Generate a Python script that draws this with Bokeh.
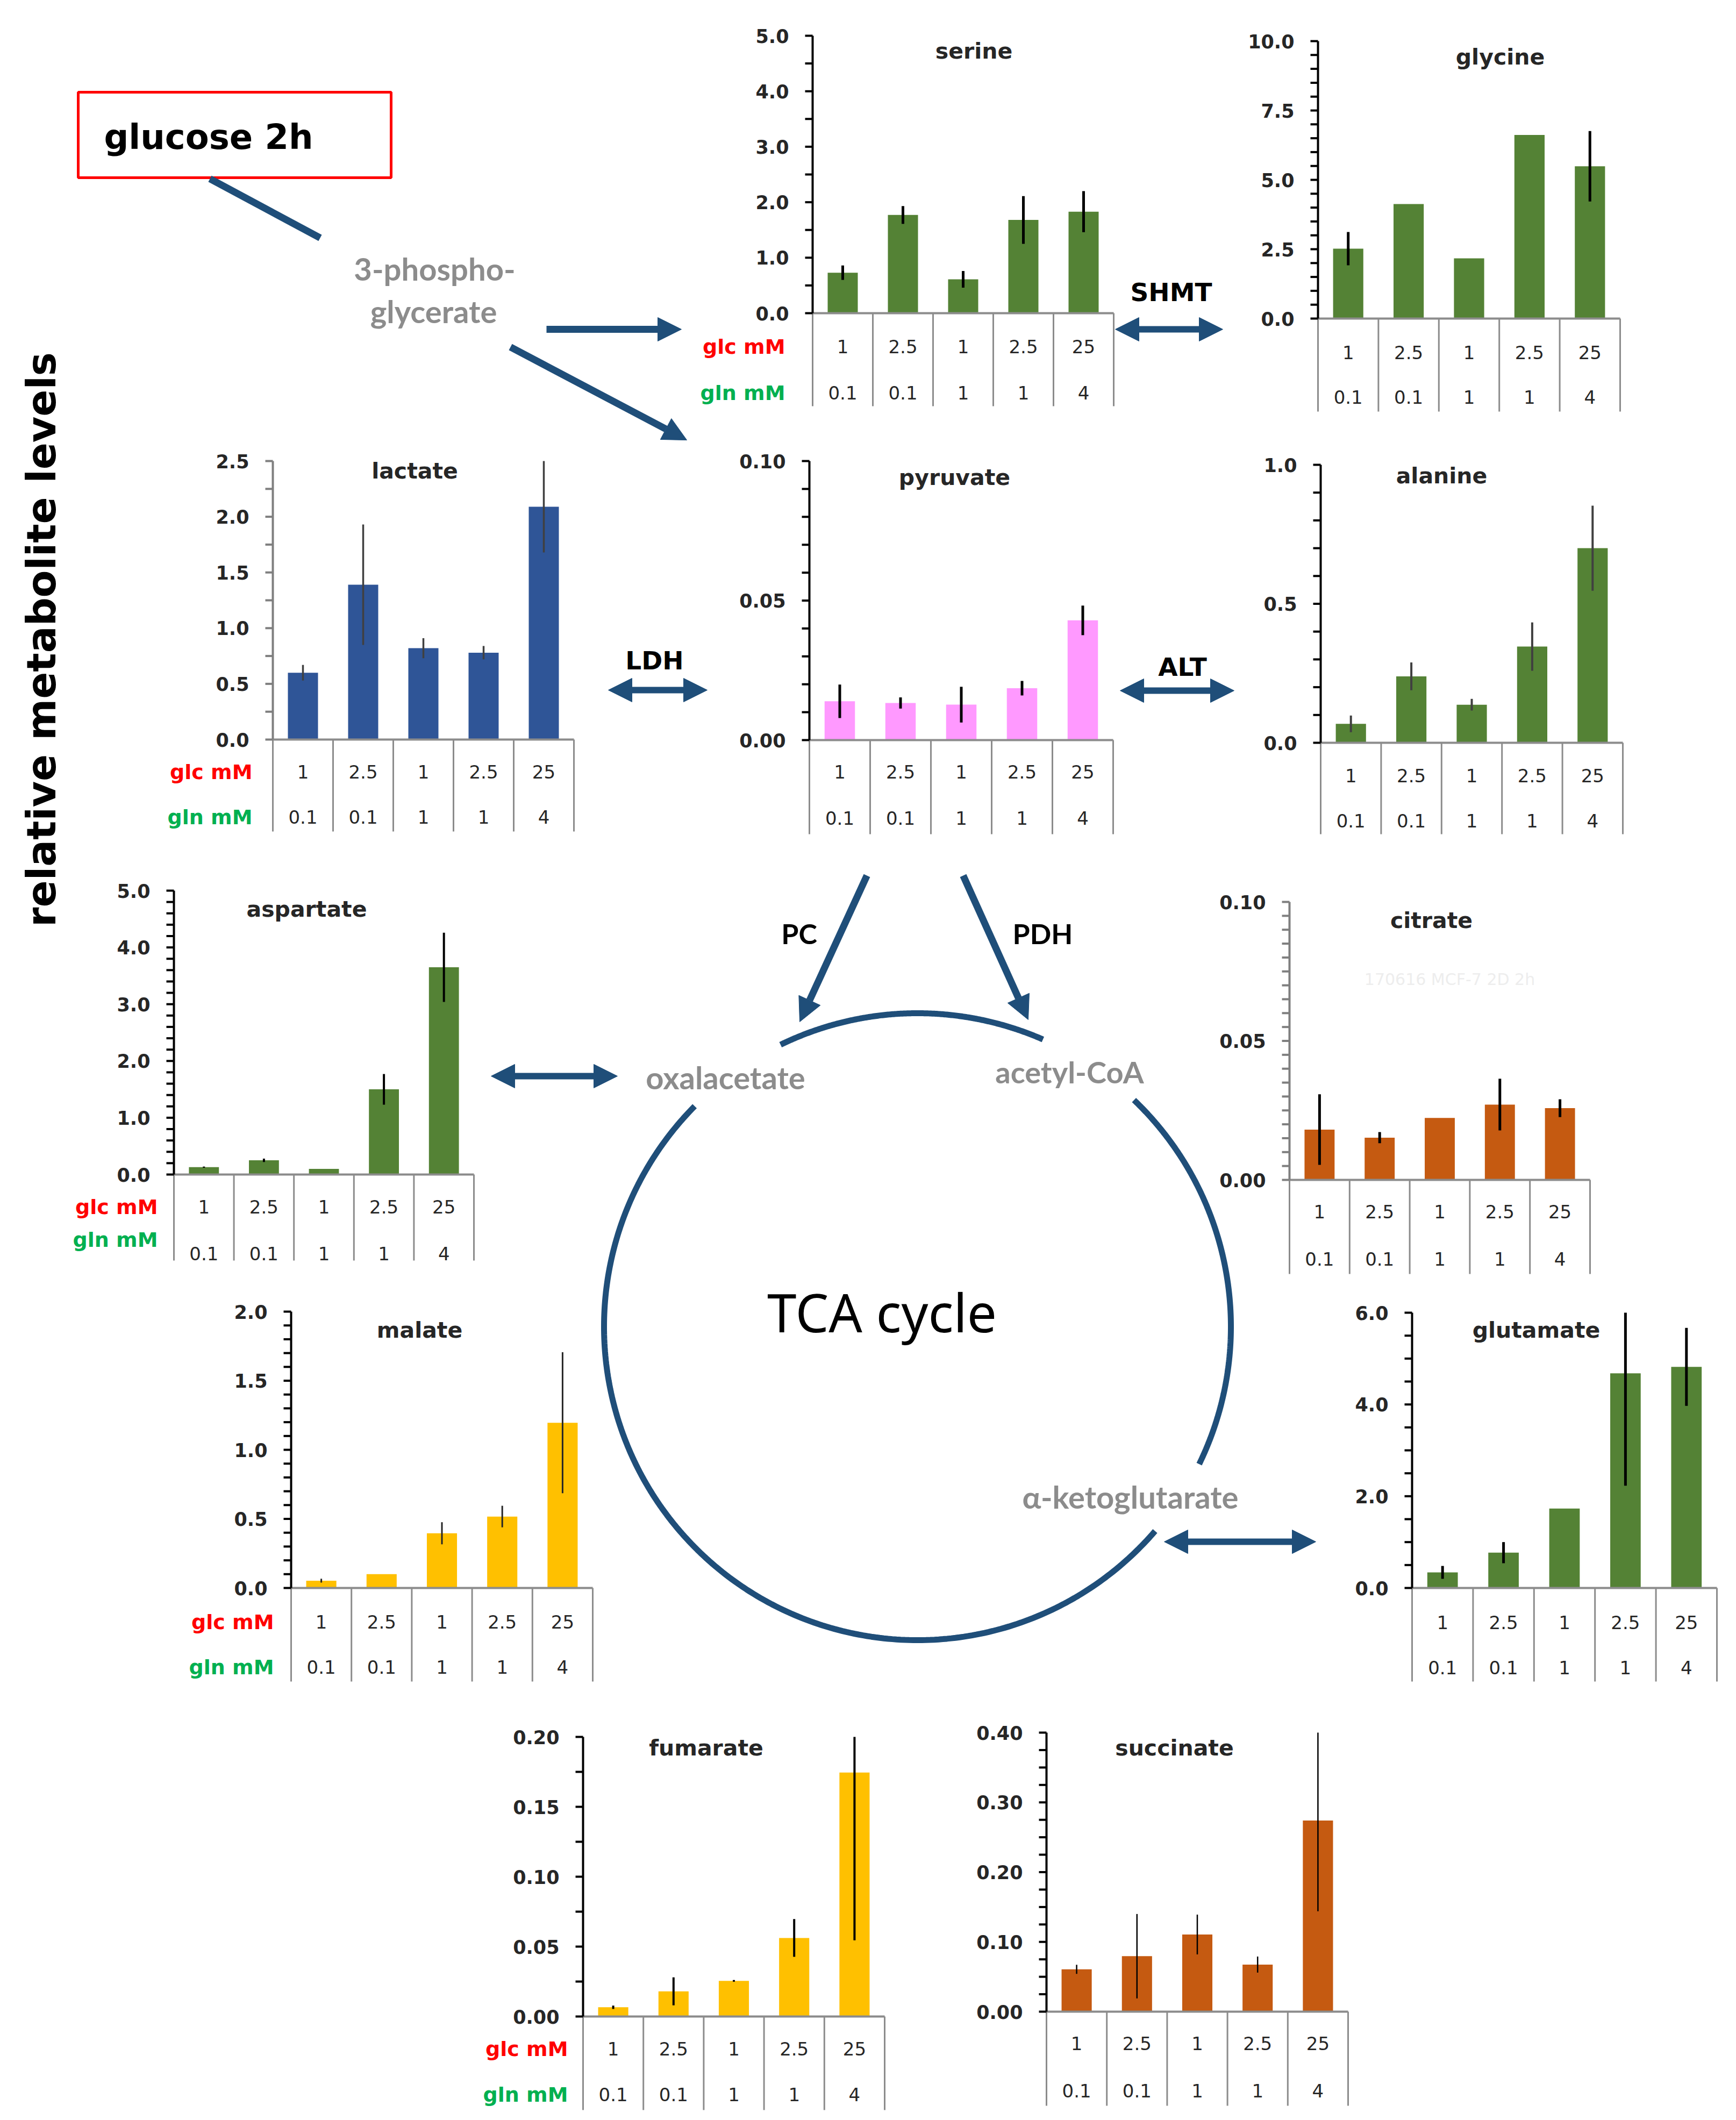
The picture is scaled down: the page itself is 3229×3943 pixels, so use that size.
import numpy as np
from bokeh.plotting import figure
from bokeh.models import Range1d, Arrow, NormalHead
from bokeh.core.properties import value
from bokeh.embed import file_html
from bokeh.resources import INLINE

# ---------------- data ----------------
glc_mM = ["1", "2.5", "1", "2.5", "25"]
gln_mM = ["0.1", "0.1", "1", "1", "4"]

serine_values = [0.73, 1.77, 0.61, 1.68, 1.83]
serine_errors = [0.13, 0.16, 0.15, 0.43, 0.37]
serine_ticks = ["0.0", "1.0", "2.0", "3.0", "4.0", "5.0"]

glycine_values = [2.52, 4.13, 2.17, 6.62, 5.49]
glycine_errors = [0.60, 0.0, 0.0, 0.0, 1.27]
glycine_ticks = ["0.0", "2.5", "5.0", "7.5", "10.0"]

lactate_values = [0.60, 1.39, 0.82, 0.78, 2.09]
lactate_errors = [0.07, 0.54, 0.09, 0.06, 0.41]
lactate_ticks = ["0.0", "0.5", "1.0", "1.5", "2.0", "2.5"]

pyruvate_values = [0.0139, 0.0133, 0.0127, 0.0186, 0.0429]
pyruvate_errors = [0.0060, 0.0020, 0.0064, 0.0026, 0.0053]
pyruvate_ticks = ["0.00", "0.05", "0.10"]

alanine_values = [0.068, 0.239, 0.137, 0.346, 0.700]
alanine_errors = [0.030, 0.050, 0.021, 0.087, 0.153]
alanine_ticks = ["0.0", "0.5", "1.0"]

aspartate_values = [0.13, 0.25, 0.10, 1.50, 3.65]
aspartate_errors = [0.01, 0.03, 0.0, 0.27, 0.61]
aspartate_ticks = ["0.0", "1.0", "2.0", "3.0", "4.0", "5.0"]

citrate_values = [0.0181, 0.0152, 0.0223, 0.0271, 0.0258]
citrate_errors = [0.0127, 0.0020, 0.0, 0.0093, 0.0032]
citrate_ticks = ["0.00", "0.05", "0.10"]

malate_values = [0.053, 0.100, 0.396, 0.517, 1.196]
malate_errors = [0.014, 0.0, 0.080, 0.078, 0.510]
malate_ticks = ["0.0", "0.5", "1.0", "1.5", "2.0"]

glutamate_values = [0.34, 0.77, 1.73, 4.68, 4.82]
glutamate_errors = [0.14, 0.23, 0.0, 2.45, 0.85]
glutamate_ticks = ["0.0", "2.0", "4.0", "6.0"]

fumarate_values = [0.0066, 0.0180, 0.0255, 0.0562, 0.1745]
fumarate_errors = [0.0012, 0.0100, 0.0006, 0.0135, 0.1200]
fumarate_ticks = ["0.00", "0.05", "0.10", "0.15", "0.20"]

succinate_values = [0.0607, 0.0795, 0.1106, 0.0675, 0.2740]
succinate_errors = [0.0065, 0.0605, 0.0285, 0.0115, 0.1300]
succinate_ticks = ["0.00", "0.10", "0.20", "0.30", "0.40"]

CHARTS = [
    ("serine", serine_values, serine_errors, serine_ticks),
    ("glycine", glycine_values, glycine_errors, glycine_ticks),
    ("lactate", lactate_values, lactate_errors, lactate_ticks),
    ("pyruvate", pyruvate_values, pyruvate_errors, pyruvate_ticks),
    ("alanine", alanine_values, alanine_errors, alanine_ticks),
    ("aspartate", aspartate_values, aspartate_errors, aspartate_ticks),
    ("citrate", citrate_values, citrate_errors, citrate_ticks),
    ("malate", malate_values, malate_errors, malate_ticks),
    ("glutamate", glutamate_values, glutamate_errors, glutamate_ticks),
    ("fumarate", fumarate_values, fumarate_errors, fumarate_ticks),
    ("succinate", succinate_values, succinate_errors, succinate_ticks),
]

# ---------------- layout (page pixels) ----------------
LAYOUT = {
    "serine":    dict(x0=1511, cw=112.0, y0=582,  ytop=66,   tbot=755,  glc_y=644,  gln_y=730,  tx=1811, ty=94,   lab_x=1460, gln_lab_y=730),
    "glycine":   dict(x0=2451, cw=112.4, y0=592,  ytop=76,   tbot=765,  glc_y=655,  gln_y=738,  tx=2790, ty=105,  lab_x=None),
    "lactate":   dict(x0=507,  cw=112.0, y0=1375, ytop=857,  tbot=1546, glc_y=1435, gln_y=1519, tx=771,  ty=875,  lab_x=469, gln_lab_y=1519),
    "pyruvate":  dict(x0=1505, cw=113.0, y0=1376, ytop=857,  tbot=1551, glc_y=1435, gln_y=1521, tx=1775, ty=887,  lab_x=None),
    "alanine":   dict(x0=2456, cw=112.4, y0=1381, ytop=864,  tbot=1551, glc_y=1442, gln_y=1526, tx=2681, ty=884,  lab_x=None),
    "aspartate": dict(x0=323,  cw=111.6, y0=2184, ytop=1656, tbot=2344, glc_y=2244, gln_y=2331, tx=570,  ty=1690, lab_x=293, gln_lab_y=2305),
    "citrate":   dict(x0=2398, cw=111.8, y0=2194, ytop=1677, tbot=2369, glc_y=2253, gln_y=2341, tx=2662, ty=1711, lab_x=None),
    "malate":    dict(x0=541,  cw=112.2, y0=2953, ytop=2439, tbot=3127, glc_y=3016, gln_y=3100, tx=780,  ty=2473, lab_x=509, gln_lab_y=3100),
    "glutamate": dict(x0=2626, cw=113.4, y0=2953, ytop=2441, tbot=3127, glc_y=3017, gln_y=3101, tx=2857, ty=2473, lab_x=None),
    "fumarate":  dict(x0=1084, cw=112.2, y0=3750, ytop=3230, tbot=3924, glc_y=3810, gln_y=3895, tx=1313, ty=3250, lab_x=1056, gln_lab_y=3895),
    "succinate": dict(x0=1946, cw=112.2, y0=3741, ytop=3222, tbot=3916, glc_y=3800, gln_y=3888, tx=2184, ty=3250, lab_x=None),
}

GREEN, NAVY, PINK, ORANGE, YELLOW = "#548235", "#2F5597", "#FF99FF", "#C55A11", "#FFC000"
STYLE = {
    "serine":    dict(color=GREEN,  axis="#000000", err="#000000", err_w=5, minor=0.5),
    "glycine":   dict(color=GREEN,  axis="#000000", err="#000000", err_w=5, minor=0.5),
    "lactate":   dict(color=NAVY,   axis="#7F7F7F", err="#404040", err_w=3.5, minor=0.25),
    "pyruvate":  dict(color=PINK,   axis="#000000", err="#000000", err_w=5, minor=0.01),
    "alanine":   dict(color=GREEN,  axis="#000000", err="#404040", err_w=4, minor=0.1),
    "aspartate": dict(color=GREEN,  axis="#000000", err="#000000", err_w=4, minor=0.2),
    "citrate":   dict(color=ORANGE, axis="#7F7F7F", err="#000000", err_w=5, minor=0.005),
    "malate":    dict(color=YELLOW, axis="#000000", err="#262626", err_w=3, minor=0.1),
    "glutamate": dict(color=GREEN,  axis="#000000", err="#000000", err_w=5, minor=0.5),
    "fumarate":  dict(color=YELLOW, axis="#000000", err="#000000", err_w=4, minor=0.025),
    "succinate": dict(color=ORANGE, axis="#000000", err="#000000", err_w=2.5, minor=0.025),
}

TXT = "#262626"
TABLE = "#8C8C8C"
ARROW = "#1F4E79"
DIAG_GRAY = "#8C8C8C"
CHART_FONT = value("DejaVu Sans")
DIAG_FONT = value("Lato")
TICK_LEN = 14

W, H = 3213, 3927
X_LO, X_HI = 0, W
Y_LO, Y_HI = 0, H

p = figure(width=W, height=H, x_range=Range1d(X_LO, X_HI), y_range=Range1d(Y_HI, Y_LO),
           output_backend="svg", toolbar_location=None, tools="",
           x_axis_location=None, y_axis_location=None, min_border=0, title_location=None)
p.outline_line_color = None
p.grid.visible = False
p.background_fill_color = "white"

# per-chart ranges so that the library scales map values into each panel
xr, yr = {}, {}
for name, vals, errs, ticks in CHARTS:
    L = LAYOUT[name]
    vmax = float(ticks[-1])
    k = (L["y0"] - L["ytop"]) / vmax
    xr[name] = Range1d((X_LO - L["x0"]) / L["cw"], (X_HI - L["x0"]) / L["cw"])
    yr[name] = Range1d((L["y0"] - Y_HI) / k, (L["y0"] - Y_LO) / k)
p.extra_x_ranges = xr
p.extra_y_ranges = yr

cats = np.arange(5) + 0.5
for name, vals, errs, ticks in CHARTS:
    L, S = LAYOUT[name], STYLE[name]
    rn = dict(x_range_name=name, y_range_name=name)
    vmax = float(ticks[-1])
    v = np.array(vals, dtype=float)
    e = np.array(errs, dtype=float)

    # bars
    p.vbar(x=cats, top=v, bottom=0, width=0.5, fill_color=S["color"], line_color=None, **rn)
    # error bars (clipped to plot area like the original)
    m = e > 0
    p.segment(x0=cats[m], x1=cats[m], y0=(v - e)[m], y1=np.minimum(v + e, vmax)[m],
              line_color=S["err"], line_width=S["err_w"], **rn)
    # category table (vertical separators)
    edges = np.arange(6)
    p.segment(x0=edges, x1=edges, y0=[L["y0"]] * 6, y1=[L["tbot"]] * 6,
              line_color=TABLE, line_width=3, x_range_name=name)
    # x axis line
    p.segment(x0=[0], x1=[5], y0=[0], y1=[0], line_color=TABLE, line_width=4, **rn)
    # y axis line + ticks
    p.segment(x0=[0], x1=[0], y0=[0], y1=[vmax], line_color=S["axis"], line_width=4, **rn)
    tpos = np.arange(0, vmax + S["minor"] / 2, S["minor"])
    p.segment(x0=-TICK_LEN / L["cw"], x1=0, y0=tpos, y1=tpos, line_color=S["axis"], line_width=4, **rn)
    p.text(x=[0] * len(ticks), y=[float(t) for t in ticks], text=ticks, x_offset=-44,
           text_align="right", text_baseline="middle", text_font=CHART_FONT, text_font_style="bold",
           text_font_size="35px", text_color=TXT, **rn)
    # category labels
    p.text(x=cats, y=[L["glc_y"]] * 5, text=glc_mM, text_align="center", text_baseline="middle",
           text_font=CHART_FONT, text_font_size="34px", text_color=TXT, x_range_name=name)
    p.text(x=cats, y=[L["gln_y"]] * 5, text=gln_mM, text_align="center", text_baseline="middle",
           text_font=CHART_FONT, text_font_size="34px", text_color=TXT, x_range_name=name)
    # chart title
    p.text(x=[L["tx"]], y=[L["ty"]], text=[name], text_align="center", text_baseline="middle",
           text_font=CHART_FONT, text_font_style="bold", text_font_size="41px", text_color=TXT)
    if L["lab_x"] is not None:
        p.text(x=[L["lab_x"]], y=[L["glc_y"]], text=["glc mM"], text_align="right", text_baseline="middle",
               text_font=CHART_FONT, text_font_style="bold", text_font_size="38px", text_color="#FF0000")
        p.text(x=[L["lab_x"]], y=[L["gln_lab_y"]], text=["gln mM"], text_align="right", text_baseline="middle",
               text_font=CHART_FONT, text_font_style="bold", text_font_size="38px", text_color="#00B050")

# watermark inside citrate panel
p.text(x=[2696], y=[1821], text=["170616 MCF-7 2D 2h"], text_align="center", text_baseline="middle",
       text_font=CHART_FONT, text_font_size="30px", text_color="#EDEDED")

# ---------------- pathway diagram ----------------
p.quad(left=[145], right=[727], top=[171], bottom=[330], fill_color=None, line_color="#FF0000", line_width=5)
p.text(x=[193], y=[254], text=["glucose 2h"], text_align="left", text_baseline="middle",
       text_font=CHART_FONT, text_font_style="bold", text_font_size="64px", text_color="#000000")
p.line([390, 595], [332, 442], line_width=13, line_color=ARROW)

p.text(x=[76], y=[1189], text=["relative metabolite levels"], angle=np.pi / 2, text_align="center",
       text_baseline="middle", text_font=CHART_FONT, text_font_style="bold", text_font_size="74px",
       text_color="#000000")

def diag_text(x, y, s, size, color, style="bold", font=DIAG_FONT):
    p.text(x=[x], y=[y], text=[s], text_align="center", text_baseline="middle", text_font=font,
           text_font_style=style, text_font_size=f"{size}px", text_color=color)

diag_text(808, 499, "3-phospho-", 58, DIAG_GRAY)
diag_text(806, 578, "glycerate", 58, DIAG_GRAY)
diag_text(1349, 2003, "oxalacetate", 58, DIAG_GRAY)
diag_text(1989, 1993, "acetyl-CoA", 56, DIAG_GRAY)
diag_text(2102, 2783, "α-ketoglutarate", 58, DIAG_GRAY)
diag_text(1640, 2439, "TCA cycle", 98, "#000000", style="normal", font=value("Noto Sans"))
diag_text(1486, 1735, "PC", 52, "#000000")
diag_text(1939, 1735, "PDH", 52, "#000000")
diag_text(2178, 543, "SHMT", 47, "#000000", font=CHART_FONT)
diag_text(1217, 1228, "LDH", 47, "#000000", font=CHART_FONT)
diag_text(2199, 1240, "ALT", 47, "#000000", font=CHART_FONT)

def arrow(xs, ys, xe, ye, both=False, lw=13, size=44):
    def head():
        return NormalHead(size=size, fill_color=ARROW, line_color=ARROW, line_width=1)
    p.add_layout(Arrow(start=head() if both else None, end=head(), x_start=xs, y_start=ys,
                       x_end=xe, y_end=ye, line_color=ARROW, line_width=lw))

arrow(1016, 612, 1267, 612)
arrow(949, 645, 1277, 818)
arrow(1612, 1628, 1487, 1900)
arrow(1791, 1628, 1912, 1896)
arrow(2074, 612, 2274, 612, both=True, lw=12)
arrow(1131, 1283, 1315, 1283, both=True, lw=12)
arrow(2083, 1284, 2295, 1284, both=True, lw=12)
arrow(913, 2001, 1148, 2001, both=True, lw=12)
arrow(2165, 2867, 2447, 2867, both=True, lw=12)

# TCA circle, drawn as three arcs with gaps for the labels
cx, cy, r = 1706, 2467, 583
for a0, a1 in [(66.4, 115.9), (135.3, 319.3), (-26.0, 46.3)]:
    th = np.radians(np.linspace(a0, a1, 240))
    p.line(cx + r * np.cos(th), cy - r * np.sin(th), line_width=11, line_color=ARROW)

open("out.html", "w").write(file_html(p, INLINE))
